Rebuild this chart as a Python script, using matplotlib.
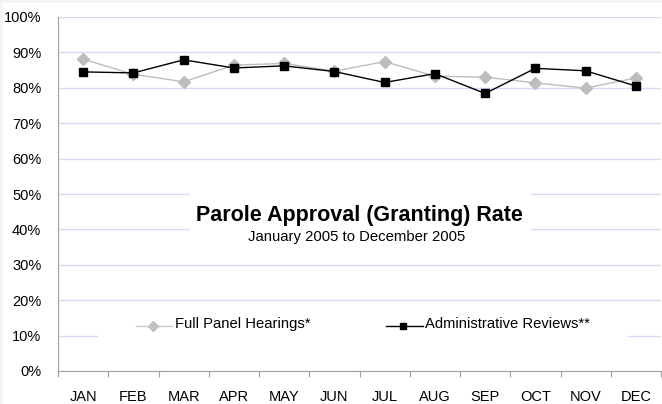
import matplotlib
matplotlib.use("Agg")
import matplotlib.pyplot as plt
from matplotlib.patches import Rectangle
from matplotlib.lines import Line2D

plt.rcParams['font.family'] = ['Liberation Sans', 'DejaVu Sans']

months = ["JAN", "FEB", "MAR", "APR", "MAY", "JUN", "JUL", "AUG", "SEP", "OCT", "NOV", "DEC"]
full_panel = [88.1, 83.8, 81.7, 86.4, 86.9, 84.7, 87.4, 83.3, 83.0, 81.4, 79.9, 82.8]
admin_reviews = [84.5, 84.2, 87.9, 85.6, 86.2, 84.6, 81.5, 84.0, 78.4, 85.5, 84.8, 80.5]
yticks = [0, 10, 20, 30, 40, 50, 60, 70, 80, 90, 100]

W, H = 662, 404
fig = plt.figure(figsize=(W / 100, H / 100), dpi=100)
fig.patch.set_facecolor("white")

L, R, T, B = 58, 661, 17, 371
ax = fig.add_axes([L / W, (H - B) / H, (R - L) / W, (B - T) / H])
ax.set_facecolor("white")

x = [i + 0.5 for i in range(len(months))]
ax.plot(x, full_panel, color="#bdbdbd", lw=1.0, marker="D", ms=6,
        mfc="#bdbdbd", mec="#bdbdbd", zorder=5)
ax.plot(x, admin_reviews, color="black", lw=1.0, marker="s", ms=5.5,
        mfc="black", mec="black", zorder=6)

ax.set_xlim(0, len(months))
ax.set_ylim(0, 100)
ax.set_yticks(yticks)
ax.set_yticklabels([f"{v}%" for v in yticks], fontsize=10.5)
ax.set_xticks(range(len(months) + 1))
ax.set_xticklabels([])
ax.set_xticks(x, minor=True)
ax.set_xticklabels(months, minor=True, fontsize=10.5)
ax.tick_params(axis="x", which="major", length=4, color="#a0a0a0", direction="out")
ax.tick_params(axis="x", which="minor", length=0, pad=14)
ax.tick_params(axis="y", length=0, pad=12)

ax.grid(axis="y", color="#d8d8f8", lw=1.0, zorder=1)
ax.set_axisbelow(True)
for s in ["top", "right"]:
    ax.spines[s].set_visible(False)
ax.spines["left"].set_color("#a0a0a0")
ax.spines["bottom"].set_color("#a0a0a0")

# white boxes covering gridlines behind title and legend
def fig_rect(x0, y0, x1, y1):
    return Rectangle((x0 / W, 1 - y1 / H), (x1 - x0) / W, (y1 - y0) / H,
                     transform=fig.transFigure, facecolor="white",
                     edgecolor="none", zorder=2)

ax.add_artist(fig_rect(190, 180, 531, 248))
ax.add_artist(fig_rect(98, 312, 628, 358))

# faint border strips at top and left of the image
fig.add_artist(Rectangle((0, 1 - 3 / H), 1, 3 / H, transform=fig.transFigure,
                         facecolor="#f4f4f4", edgecolor="none", zorder=0))
fig.add_artist(Rectangle((0, 0), 3 / W, 1, transform=fig.transFigure,
                         facecolor="#f4f4f4", edgecolor="none", zorder=0))

fig.text(359 / W, 1 - 216 / H, "Parole Approval (Granting) Rate", fontsize=15.5,
         fontweight="bold", ha="center", va="center")
fig.text(357 / W, 1 - 237 / H, "January 2005 to December 2005", fontsize=10.7,
         ha="center", va="center")

# legend entries
ly = 1 - 326 / H
fig.add_artist(Line2D([136 / W, 172 / W], [ly, ly], color="#c8c8c8", lw=1.0,
                      transform=fig.transFigure))
fig.add_artist(Line2D([153 / W], [ly], color="#c0c0c0", marker="D", ms=5.5,
                      mfc="#c0c0c0", mec="#c0c0c0", transform=fig.transFigure))
fig.text(175 / W, 1 - 324 / H, "Full Panel Hearings*", fontsize=10.6, ha="left", va="center")

fig.add_artist(Line2D([386 / W, 423 / W], [ly, ly], color="black", lw=1.0,
                      transform=fig.transFigure))
fig.add_artist(Line2D([403 / W], [ly], color="black", marker="s", ms=5,
                      mfc="black", mec="black", transform=fig.transFigure))
fig.text(425 / W, 1 - 324 / H, "Administrative Reviews**", fontsize=10.6, ha="left", va="center")

fig.savefig("out.png", dpi=100, facecolor="white")
